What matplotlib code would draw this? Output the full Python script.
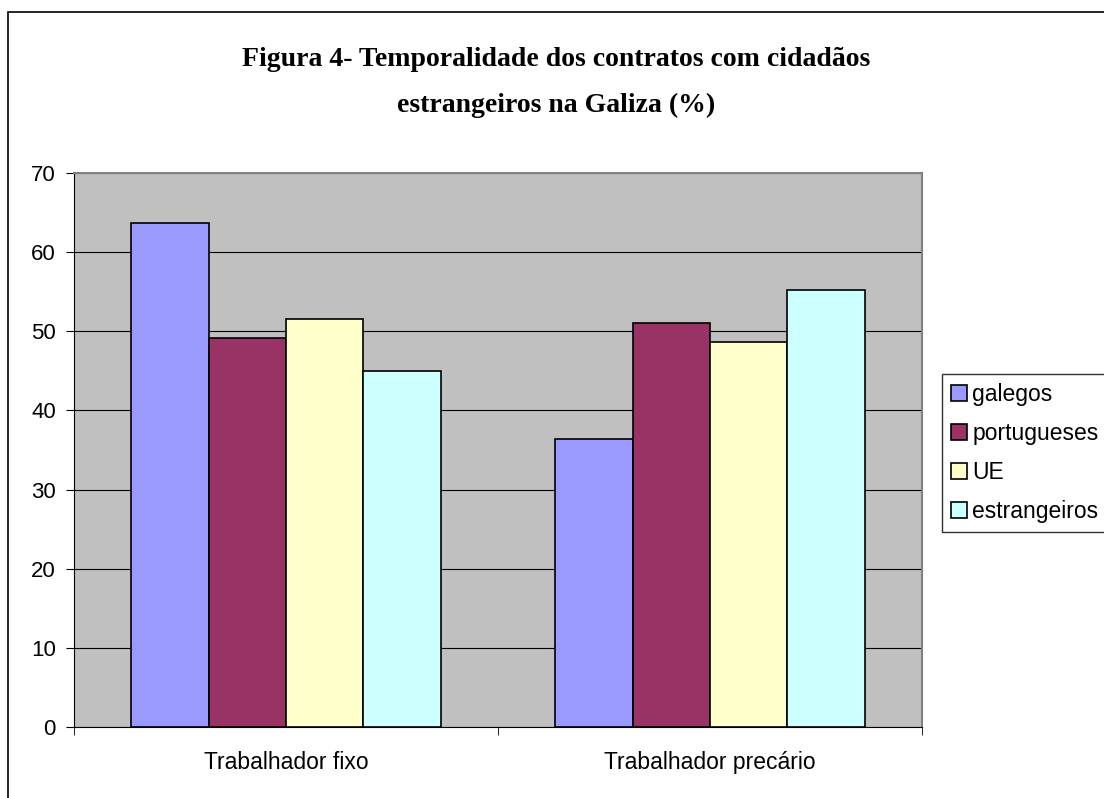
import numpy as np
import matplotlib.pyplot as plt
from matplotlib.patches import Rectangle

categories = ["Trabalhador fixo", "Trabalhador precário"]
series_names = ["galegos", "portugueses", "UE", "estrangeiros"]
galegos = [63.7, 36.4]
portugueses = [49.2, 51.0]
ue = [51.5, 48.6]
estrangeiros = [45.0, 55.2]
colors = ["#9999FF", "#993366", "#FFFFCC", "#CCFFFF"]

W, H = 1104, 798
fig = plt.figure(figsize=(W / 100, H / 100), dpi=100)

# borda exterior do gráfico (sai da imagem à direita e em baixo)
fig.patches.append(Rectangle((8 / W, -0.1), 1.2, 1 - 12 / H + 0.1,
                             transform=fig.transFigure, fill=False,
                             edgecolor="black", linewidth=1.2))

ax = fig.add_axes([74 / W, 1 - 727 / H, (922 - 74) / W, (727 - 173) / H])
ax.set_facecolor("#C0C0C0")

x = np.arange(len(categories))
bw = 0.73 / 4
data = [galegos, portugueses, ue, estrangeiros]
for i, (vals, name, c) in enumerate(zip(data, series_names, colors)):
    ax.bar(x + (i - 1.5) * bw, vals, bw, color=c, edgecolor="black",
           linewidth=1.2, label=name, zorder=3)

ax.set_xlim(-0.5, 1.5)
ax.set_ylim(0, 70)
ax.set_yticks(range(0, 71, 10))
ax.yaxis.grid(True, color="black", linewidth=0.8, zorder=1)
ax.set_axisbelow(True)

ax.set_xticks(x)
ax.set_xticklabels(categories, fontsize=16.5, fontfamily="Liberation Sans")
ax.tick_params(axis="x", which="major", length=0, pad=17)
ax.set_xticks([-0.5, 0.5, 1.5], minor=True)
ax.tick_params(axis="x", which="minor", length=6, direction="out")
ax.tick_params(axis="y", length=6, direction="out", pad=7)
for lab in ax.get_yticklabels():
    lab.set_fontsize(16)
    lab.set_fontfamily("Liberation Sans")

ax.spines["top"].set_color("#808080")
ax.spines["right"].set_color("#808080")
ax.spines["top"].set_linewidth(1.5)
ax.spines["right"].set_linewidth(1.5)

fig.text(556 / W, 1 - 60 / H,
         "Figura 4- Temporalidade dos contratos com cidadãos",
         ha="center", va="center", fontsize=20, fontweight="bold",
         fontfamily="Liberation Serif")
fig.text(556 / W, 1 - 105 / H, "estrangeiros na Galiza (%)",
         ha="center", va="center", fontsize=20, fontweight="bold",
         fontfamily="Liberation Serif")

leg = fig.legend(loc="upper left", bbox_to_anchor=(942 / W, 1 - 374 / H),
                 prop={"family": "Liberation Sans", "size": 16.5},
                 frameon=True, fancybox=False, shadow=False,
                 handlelength=0.7, handleheight=0.7, handletextpad=0.22,
                 labelspacing=0.70, borderpad=0.40, borderaxespad=0)
leg.get_frame().set_edgecolor("black")
leg.get_frame().set_linewidth(1.0)

fig.savefig("out.png", dpi=100)
